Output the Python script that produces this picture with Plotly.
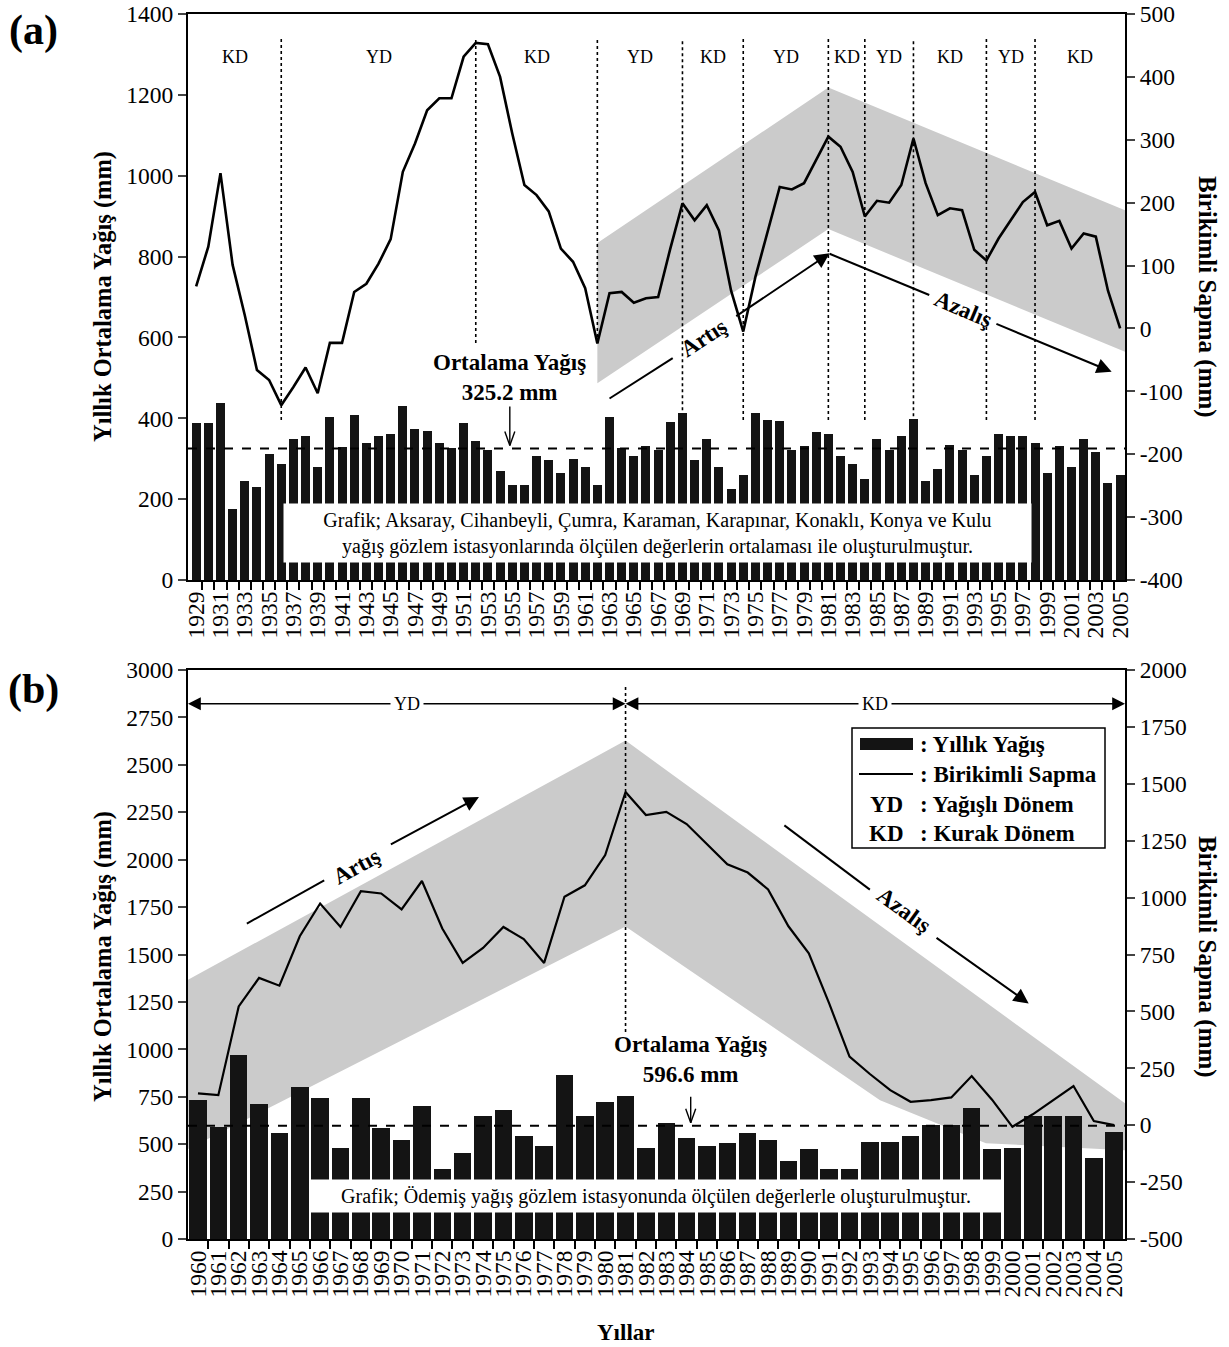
import plotly.graph_objects as go

W, H = 1229, 1347
SERIF = "Liberation Serif"

# ---------------- Panel (a): Konya basin stations, 1929-2005 ----------------
years_a = list(range(1929, 2006))
rain_a = [389, 389, 437, 175, 245, 231, 312, 286, 350, 356, 279, 403, 328, 408, 340, 355,
          360, 431, 374, 369, 340, 327, 389, 345, 322, 270, 235, 235, 307, 297, 265, 300,
          279, 235, 403, 327, 307, 331, 322, 390, 412, 297, 350, 279, 225, 260, 412, 397,
          393, 322, 331, 365, 360, 307, 286, 251, 350, 322, 355, 398, 246, 275, 335, 322,
          260, 307, 360, 356, 356, 340, 265, 331, 279, 350, 316, 241, 260]
cumdev_a = [67, 130, 247, 101, 21, -66, -82, -122, -93, -62, -103, -23, -23, 58, 71, 103,
            142, 249, 294, 347, 366, 366, 432, 454, 452, 400, 310, 228, 212, 186, 127, 106,
            64, -24, 56, 58, 41, 48, 50, 127, 199, 172, 196, 156, 60, -5, 82, 154,
            225, 221, 231, 268, 305, 289, 249, 178, 203, 200, 228, 302, 231, 180, 191, 188,
            125, 108, 143, 172, 201, 217, 164, 171, 127, 151, 146, 60, 0]
mean_a = 325.2
xrange_a = [1928.33, 2005.4]
# trend band (right axis units)
band_a_upper = [(1962, 136), (1981, 383), (xrange_a[1], 188)]
band_a_lower = [(xrange_a[1], -37), (1981, 158), (1962, -87)]
# period boundaries and the lower end of each dotted divider (left axis units)
dividers_a = [1936, 1952, 1962, 1969, 1974, 1981, 1984, 1988, 1994, 1998]
divider_ends_a = [396, 586, 586, 420, 396, 396, 396, 405, 396, 396]
periods_a = ["KD", "YD", "KD", "YD", "KD", "YD", "KD", "YD", "KD", "YD", "KD"]

# ---------------- Panel (b): Ödemiş station, 1960-2005 ----------------
years_b = list(range(1960, 2006))
rain_b = [732, 592, 969, 711, 557, 802, 744, 481, 744, 583, 522, 702, 369, 451, 650, 680,
          544, 492, 864, 650, 723, 753, 481, 609, 534, 492, 504, 557, 522, 411, 473, 369,
          369, 513, 513, 544, 601, 601, 692, 473, 481, 650, 650, 650, 428, 565]
cumdev_b = [140, 132, 522, 647, 613, 830, 974, 871, 1028, 1018, 948, 1073, 864, 713, 779, 871,
            818, 713, 1004, 1054, 1187, 1464, 1363, 1377, 1323, 1235, 1146, 1110, 1036, 874, 755, 535,
            301, 225, 154, 103, 110, 122, 216, 112, -7, 48, 112, 172, 18, 0]
mean_b = 596.6
xrange_b = [1959.51, 2005.53]
band_b_upper = [(xrange_b[0], 639), (1981, 1690), (xrange_b[1], 96)]
band_b_lower = [(xrange_b[1], -110), (1998.7, -79), (1993.5, 110), (1981, 873), (xrange_b[0], -105)]
divider_b = 1981

fig = go.Figure()

# bars
fig.add_trace(go.Bar(x=years_a, y=rain_a, width=0.74, marker=dict(color="#141414", line=dict(width=0)),
                     xaxis="x", yaxis="y", showlegend=False))
fig.add_trace(go.Bar(x=years_b, y=rain_b, width=0.86, marker=dict(color="#141414", line=dict(width=0)),
                     xaxis="x2", yaxis="y3", showlegend=False))
# cumulative deviation lines
fig.add_trace(go.Scatter(x=years_a, y=cumdev_a, mode="lines", line=dict(color="black", width=2.6),
                         xaxis="x", yaxis="y2", showlegend=False))
fig.add_trace(go.Scatter(x=years_b, y=cumdev_b, mode="lines", line=dict(color="black", width=2.2),
                         xaxis="x2", yaxis="y4", showlegend=False))

shapes = []
annotations = []


def band_path(upper, lower):
    pts = upper + lower
    return "M " + " L ".join(f"{x},{y}" for x, y in pts) + " Z"


shapes.append(dict(type="path", path=band_path(band_a_upper, band_a_lower), xref="x", yref="y2",
                   fillcolor="#cbcbcb", line=dict(width=0), layer="below"))
shapes.append(dict(type="path", path=band_path(band_b_upper, band_b_lower), xref="x2", yref="y4",
                   fillcolor="#cbcbcb", line=dict(width=0), layer="below"))

# mean lines
shapes.append(dict(type="line", xref="x domain", x0=0, x1=1, yref="y", y0=mean_a, y1=mean_a,
                   line=dict(color="black", width=2, dash="dash")))
shapes.append(dict(type="line", xref="x2 domain", x0=0, x1=1, yref="y3", y0=mean_b, y1=mean_b,
                   line=dict(color="black", width=2, dash="dash")))

# dotted period dividers
for yr, end in zip(dividers_a, divider_ends_a):
    shapes.append(dict(type="line", xref="x", x0=yr, x1=yr, yref="y", y0=end, y1=1340,
                       line=dict(color="black", width=1.6, dash="dot")))
shapes.append(dict(type="line", xref="x2", x0=divider_b, x1=divider_b, yref="y3", y0=1092, y1=2910,
                   line=dict(color="black", width=1.6, dash="dot")))

# period labels of panel (a)
bounds_a = [xrange_a[0]] + dividers_a + [xrange_a[1]]
for lab, lo, hi in zip(periods_a, bounds_a[:-1], bounds_a[1:]):
    annotations.append(dict(x=(lo + hi) / 2, y=1293, xref="x", yref="y", text=lab, showarrow=False,
                            font=dict(family=SERIF, size=18, color="black")))

# period arrows of panel (b)
arrow_y_b = 2822
for x_tip, x_tail in [(xrange_b[0], 1970.25), (divider_b, 1970.25),
                      (divider_b, 1993.27), (xrange_b[1], 1993.27)]:
    annotations.append(dict(x=x_tip, y=arrow_y_b, ax=x_tail, ay=arrow_y_b, xref="x2", yref="y3",
                            axref="x2", ayref="y3", text="", showarrow=True, arrowhead=2,
                            arrowsize=1.6, arrowwidth=1.6, arrowcolor="black"))
for lab, xc in [("YD", 1970.25), ("KD", 1993.27)]:
    annotations.append(dict(x=xc, y=arrow_y_b, xref="x2", yref="y3", text=lab, showarrow=False,
                            bgcolor="white", borderpad=3,
                            font=dict(family=SERIF, size=18, color="black")))


# mean value labels with thin open arrows
def mean_label(xv, yv, xref, yref, text, text_y, shaft):
    annotations.append(dict(x=xv, y=text_y, xref=xref, yref=yref, text=text, showarrow=False,
                            font=dict(family=SERIF, size=23, color="black")))
    common = dict(type="line", xref=xref, yref=yref, xsizemode="pixel", ysizemode="pixel",
                  xanchor=xv, yanchor=yv, line=dict(color="black", width=1.4))
    shapes.append(dict(common, x0=0, x1=0, y0=3, y1=3 + shaft))
    shapes.append(dict(common, x0=0, x1=-5, y0=3, y1=17))
    shapes.append(dict(common, x0=0, x1=5, y0=3, y1=17))


mean_label(1954.8, mean_a, "x", "y", "<b>Ortalama Yağış<br>325.2 mm</b>", 500, 39)
mean_label(1984.2, mean_b, "x2", "y3", "<b>Ortalama Yağış<br>596.6 mm</b>", 944, 26)


# trend arrows with the label set into the shaft
def trend_arrow(xref, yref, p0, p1, p2, tip, label_xy, angle):
    shapes.append(dict(type="line", xref=xref, yref=yref, x0=p0[0], y0=p0[1], x1=p1[0], y1=p1[1],
                       line=dict(color="black", width=2)))
    annotations.append(dict(x=tip[0], y=tip[1], ax=p2[0], ay=p2[1], xref=xref, yref=yref,
                            axref=xref, ayref=yref, text="", showarrow=True, arrowhead=2,
                            arrowsize=1.5, arrowwidth=2, arrowcolor="black"))
    annotations.append(dict(x=label_xy[0], y=label_xy[1], xref=xref, yref=yref, text="<b>" + label_xy[2] + "</b>",
                            showarrow=False, textangle=angle,
                            font=dict(family=SERIF, size=23, color="black")))


trend_arrow("x", "y", (1963.0, 449), (1968.2, 549), (1973.3, 650), (1981.1, 808),
            (1970.8, 599, "Artış"), -33)
trend_arrow("x", "y", (1981.1, 807), (1989.3, 705), (1994.7, 635), (2004.3, 515),
            (1992.1, 668, "Azalış"), 23)
trend_arrow("x2", "y3", (1962.4, 1663), (1966.2, 1891), (1969.4, 2076), (1973.8, 2330),
            (1967.8, 1962, "Artış"), -29)
trend_arrow("x2", "y3", (1988.8, 2181), (1993.0, 1842), (1996.2, 1593), (2000.8, 1242),
            (1994.7, 1733, "Azalış"), 36)


def paper_text(xp, yp, text, size, bold=False, angle=0, xanchor="center", **extra):
    annotations.append(dict(x=xp / W, y=1 - yp / H, xref="paper", yref="paper", showarrow=False,
                            xanchor=xanchor, yanchor="middle", textangle=angle,
                            text=("<b>" + text + "</b>") if bold else text,
                            font=dict(family=SERIF, size=size, color="black"), **extra))


# source notes
paper_text(657, 533, "Grafik; Aksaray, Cihanbeyli, Çumra, Karaman, Karapınar, Konaklı, Konya ve Kulu<br>"
                     "yağış gözlem istasyonlarında ölçülen değerlerin ortalaması ile oluşturulmuştur.",
           20, bgcolor="white", width=745, height=56)
paper_text(656, 1196, "Grafik; Ödemiş yağış gözlem istasyonunda ölçülen değerlerle oluşturulmuştur.",
           20, bgcolor="white", width=690, height=30)

# legend box of panel (b)
shapes.append(dict(type="rect", xref="paper", yref="paper", x0=852 / W, x1=1105 / W,
                   y0=1 - 848 / H, y1=1 - 728 / H, line=dict(color="black", width=1.5), fillcolor="white"))
shapes.append(dict(type="rect", xref="paper", yref="paper", x0=860 / W, x1=913 / W,
                   y0=1 - 750 / H, y1=1 - 738 / H, line=dict(width=0), fillcolor="#141414"))
shapes.append(dict(type="line", xref="paper", yref="paper", x0=859 / W, x1=913 / W,
                   y0=1 - 774 / H, y1=1 - 774 / H, line=dict(color="black", width=1.8)))
legend_rows = [(744, "", ": Yıllık Yağış"), (774, "", ": Birikimli Sapma"),
               (804, "YD", ": Yağışlı Dönem"), (833, "KD", ": Kurak Dönem")]
for ly, key, desc in legend_rows:
    if key:
        paper_text(886, ly, key, 23, bold=True)
    paper_text(918, ly, desc, 23, bold=True, xanchor="left")

# panel letters, axis titles
paper_text(33, 30, "(a)", 42, bold=True)
paper_text(33, 689, "(b)", 42, bold=True)
paper_text(103, 297, "Yıllık Ortalama Yağış (mm)", 24.5, bold=True, angle=-90)
paper_text(1207, 297, "Birikimli Sapma (mm)", 25, bold=True, angle=90)
paper_text(103, 957, "Yıllık Ortalama Yağış (mm)", 24.5, bold=True, angle=-90)
paper_text(1207, 957, "Birikimli Sapma (mm)", 25, bold=True, angle=90)
paper_text(626, 1332, "Yıllar", 23, bold=True)

tickfont = dict(family=SERIF, size=23.5, color="black")
axis_common = dict(showline=True, linecolor="black", linewidth=2, showgrid=False, zeroline=False,
                   tickfont=tickfont, fixedrange=True, automargin=False)
ydom_a = [1 - 580 / H, 1 - 14 / H]
ydom_b = [1 - 1239 / H, 1 - 670 / H]
xdom = [188 / W, 1125 / W]


def hy(v):
    return str(v).replace("\u2212", "-")


lab_years_a = years_a[::2]
fig.update_layout(
    template="none",
    width=W, height=H, margin=dict(l=0, r=0, t=0, b=0, autoexpand=False),
    paper_bgcolor="white", plot_bgcolor="white",
    showlegend=False, bargap=0,
    xaxis=dict(axis_common, domain=xdom, range=xrange_a, anchor="y", mirror=True,
               tickmode="array", tickvals=lab_years_a, ticktext=[str(y) for y in lab_years_a],
               tickangle=-90, ticks="",
               minor=dict(tickmode="array", tickvals=[y - 0.5 for y in years_a[1:]], ticks="outside",
                          ticklen=8, tickwidth=1.5, tickcolor="black", showgrid=False)),
    yaxis=dict(axis_common, domain=ydom_a, range=[0, 1400], anchor="x", tickmode="array",
               tickvals=list(range(0, 1401, 200)), ticks="outside", ticklen=8, tickwidth=1.5),
    yaxis2=dict(axis_common, overlaying="y", side="right", anchor="x", range=[-400, 500], tickmode="array",
                tickvals=list(range(-400, 501, 100)), ticktext=[hy(v) for v in range(-400, 501, 100)],
                ticks="outside", ticklen=8, tickwidth=1.5),
    xaxis2=dict(axis_common, domain=xdom, range=xrange_b, anchor="y3", mirror=True,
                tickmode="array", tickvals=years_b, ticktext=[str(y) for y in years_b],
                tickangle=-90, ticks="",
                minor=dict(tickmode="array", tickvals=[y - 0.5 for y in years_b[1:]], ticks="outside",
                           ticklen=8, tickwidth=1.5, tickcolor="black", showgrid=False)),
    yaxis3=dict(axis_common, domain=ydom_b, range=[0, 3000], anchor="x2", tickmode="array",
                tickvals=list(range(0, 3001, 250)), ticks="outside", ticklen=8, tickwidth=1.5),
    yaxis4=dict(axis_common, overlaying="y3", side="right", anchor="x2", range=[-500, 2000], tickmode="array",
                tickvals=list(range(-500, 2001, 250)), ticktext=[hy(v) for v in range(-500, 2001, 250)],
                ticks="outside", ticklen=8, tickwidth=1.5),
    shapes=shapes, annotations=annotations,
)

fig.write_html("out.html")
